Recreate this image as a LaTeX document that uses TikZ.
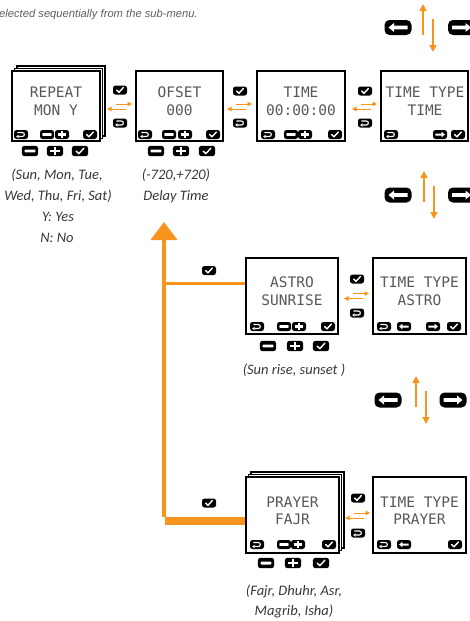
\documentclass[tikz,border=0pt]{standalone}
\usepackage{fontspec}
\usetikzlibrary{arrows.meta}
\newfontfamily\lcdfont{DejaVu Sans Mono}
\newfontfamily\capfont{Carlito}
\newfontfamily\notefont{Liberation Sans}
\definecolor{orng}{RGB}{247,148,29}
\definecolor{lcdgray}{RGB}{88,88,88}
\definecolor{capgray}{RGB}{55,55,55}
\definecolor{notegray}{RGB}{95,95,95}
\tikzset{
  screen/.style={draw=black, line width=2.2pt, fill=white, inner sep=0pt, rectangle},
  stackbox/.style={draw=black, line width=1.1pt, fill=white, inner sep=0pt, rectangle},
  lcd/.style={font=\lcdfont\fontsize{14.5}{14.5}\selectfont, text=lcdgray, inner sep=0pt, anchor=base},
  captext/.style={font=\capfont\itshape\fontsize{14.5}{14.5}\selectfont, text=capgray, inner sep=0pt, anchor=base},
  bigline/.style={orng, line width=4pt},
  pics/bchk/.style={code={
    \fill[black,rounded corners=2.5pt] (-7,-4.5) rectangle (7,4.5);
    \draw[white,line width=1.4pt,line cap=round,line join=round] (-3.3,0) -- (-1,2.3) -- (3.4,-2.5);}},
  pics/bmin/.style={code={
    \fill[black,rounded corners=2.5pt] (-7,-4.5) rectangle (7,4.5);
    \fill[white,rounded corners=0.6pt] (-4.6,-1.3) rectangle (4.6,1.3);}},
  pics/bplus/.style={code={
    \fill[black,rounded corners=2.5pt] (-7,-4.5) rectangle (7,4.5);
    \fill[white] (-4.2,-1.2) rectangle (4.2,1.2);
    \fill[white] (-1.2,-3.4) rectangle (1.2,3.4);}},
  pics/bback/.style={code={
    \fill[black,rounded corners=2.5pt] (-7,-4.5) rectangle (7,4.5);
    \draw[white,line width=1.1pt] (-3.6,-2) -- (1.3,-2) .. controls (4,-2) and (4,2) .. (1.3,2) -- (-2.5,2);
    \fill[white] (-4.8,2) -- (-2.3,0.2) -- (-2.3,3.8) -- cycle;}},
  pics/bleft/.style={code={
    \fill[black,rounded corners=2.5pt] (-7,-4.5) rectangle (7,4.5);
    \fill[white] (-4.8,0) -- (-1.6,-2.9) -- (-1.6,-1) -- (4.6,-1) -- (4.6,1) -- (-1.6,1) -- (-1.6,2.9) -- cycle;}},
  pics/bright/.style={code={
    \fill[black,rounded corners=2.5pt] (-7,-4.5) rectangle (7,4.5);
    \fill[white] (4.8,0) -- (1.6,-2.9) -- (1.6,-1) -- (-4.6,-1) -- (-4.6,1) -- (1.6,1) -- (1.6,2.9) -- cycle;}},
  pics/bigleft/.style={code={
    \fill[black,rounded corners=5pt] (-13.5,-7.5) rectangle (13.5,7.5);
    \fill[white] (-9.5,0) -- (-4,-4.5) -- (-4,-1.8) -- (9.5,-1.8) -- (9.5,1.8) -- (-4,1.8) -- (-4,4.5) -- cycle;}},
  pics/bigright/.style={code={
    \fill[black,rounded corners=5pt] (-13.5,-7.5) rectangle (13.5,7.5);
    \fill[white] (9.5,0) -- (4,-4.5) -- (4,-1.8) -- (-9.5,-1.8) -- (-9.5,1.8) -- (4,1.8) -- (4,4.5) -- cycle;}},
  pics/swap/.style={code={
    \draw[orng,line width=0.9pt,-{Triangle[length=4.5pt,width=4.5pt]}] (-4,0) -- (12,0);
    \draw[orng,line width=0.9pt,-{Triangle[length=4.5pt,width=4.5pt]}] (6,5) -- (-13,5);}},
  pics/updown/.style={code={
    \draw[orng,line width=1.5pt,-{Triangle[length=7pt,width=7pt]}] (0,31) -- (0,0);
    \draw[orng,line width=1.5pt,-{Triangle[length=7pt,width=7pt]}] (10,15) -- (10,48);}},
}
\begin{document}
\begin{tikzpicture}[x=1pt,y=-1pt]
\useasboundingbox (0,0) rectangle (470,621);

% note at top
\node[anchor=base west, inner sep=0pt, font=\notefont\itshape\fontsize{11.2}{11.2}\selectfont, text=notegray] (note) at (-1,17) {elected sequentially from the sub-menu.};

% ---------- top row screens ----------
\node[stackbox, minimum width=88pt, minimum height=70pt] (repb2) at (61,101) {};
\node[stackbox, minimum width=88pt, minimum height=70pt] (repb1) at (58.5,103.5) {};
\node[screen, minimum width=88pt, minimum height=70pt] (rep) at (56,106) {};
\node[screen, minimum width=87pt, minimum height=70pt] (ofs) at (179.5,106) {};
\node[screen, minimum width=88pt, minimum height=70pt] (tim) at (301,106) {};
\node[screen, minimum width=87pt, minimum height=70pt] (ttt) at (424.5,106) {};

\node[lcd] (rep1) at (56,97.5) {REPEAT};
\node[lcd] (rep2) at (56,115) {MON Y};
\node[lcd] (ofs1) at (179.5,97.5) {OFSET};
\node[lcd] (ofs2) at (179.5,115) {000};
\node[lcd] (tim1) at (301,97.5) {TIME};
\node[lcd] (tim2) at (301,115) {00:00:00};
\node[lcd] (ttt1) at (425,97.5) {TIME TYPE};
\node[lcd] (ttt2) at (425,115) {TIME};

% inner screen buttons, top row
\pic at (21,134.5) {bback}; \pic at (47,134.5) {bmin}; \pic at (62,134.5) {bplus}; \pic at (90,134.5) {bchk};
\pic at (145,134.5) {bback}; \pic at (169,134.5) {bmin}; \pic at (185,134.5) {bplus}; \pic at (213,134.5) {bchk};
\pic at (268,134.5) {bback}; \pic at (291,134.5) {bmin}; \pic at (305,134.5) {bplus}; \pic at (335,134.5) {bchk};
\pic at (391,134.5) {bback}; \pic at (440,134.5) {bright}; \pic at (458,134.5) {bchk};

% buttons below top row screens
\pic[scale=1.15] at (30,151) {bmin}; \pic[scale=1.15] at (55,151) {bplus}; \pic[scale=1.15] at (80,151) {bchk};
\pic[scale=1.15] at (156,151) {bmin}; \pic[scale=1.15] at (181,151) {bplus}; \pic[scale=1.15] at (207,151) {bchk};

% between-screen icons, top row
\pic at (120,90) {bchk}; \pic at (120,123) {bback}; \pic at (120,104) {swap};
\pic at (240,91) {bchk}; \pic at (240,123) {bback}; \pic at (240,104) {swap};
\pic at (365,91) {bchk}; \pic at (365,123) {bback}; \pic at (365,104) {swap};

% captions top row
\node[captext] (c1) at (57,179) {(Sun, Mon, Tue,};
\node[captext] (c2) at (58,200) {Wed, Thu, Fri, Sat)};
\node[captext] (c3) at (58,221) {Y: Yes};
\node[captext] (c4) at (57,242) {N: No};
\node[captext] (c5) at (176,179) {(-720,+720)};
\node[captext] (c6) at (176,200) {Delay Time};

% arrow groups on the right
\pic at (398,27.5) {bigleft}; \pic at (461.5,27.5) {bigright}; \pic at (423,4) {updown};
\pic at (398,195) {bigleft}; \pic at (461.5,195) {bigright}; \pic at (424,171) {updown};
\pic at (388,400) {bigleft}; \pic at (453,400) {bigright}; \pic at (416,376) {updown};

% ---------- astro row ----------
\node[screen, minimum width=92pt, minimum height=76pt] (ast) at (292,296) {};
\node[screen, minimum width=93pt, minimum height=76pt] (tta) at (419.5,296) {};
\node[lcd] (ast1) at (292,287) {ASTRO};
\node[lcd] (ast2) at (292,305) {SUNRISE};
\node[lcd] (tta1) at (419.5,287) {TIME TYPE};
\node[lcd] (tta2) at (419.5,305) {ASTRO};
\pic at (257,326.5) {bback}; \pic at (284,326.5) {bmin}; \pic at (299,326.5) {bplus}; \pic at (328,326.5) {bchk};
\pic at (384,326.5) {bback}; \pic at (404,326.5) {bleft}; \pic at (433,326.5) {bright}; \pic at (454,326.5) {bchk};
\pic[scale=1.15] at (268,346) {bmin}; \pic[scale=1.15] at (295,346) {bplus}; \pic[scale=1.15] at (321,346) {bchk};
\pic at (357,279) {bchk}; \pic at (357,313) {bback}; \pic at (357,293.5) {swap};
\node[captext] (c7) at (294,374) {(Sun rise, sunset )};

% ---------- prayer row ----------
\node[stackbox, minimum width=93pt, minimum height=76pt] (prab2) at (297.5,510) {};
\node[stackbox, minimum width=93pt, minimum height=76pt] (prab1) at (295,512.5) {};
\node[screen, minimum width=93pt, minimum height=76pt] (pra) at (292.5,515) {};
\node[screen, minimum width=93pt, minimum height=76pt] (ttp) at (419.5,515) {};
\node[lcd] (pra1) at (292.5,507) {PRAYER};
\node[lcd] (pra2) at (292.5,524) {FAJR};
\node[lcd] (ttp1) at (419.5,507) {TIME TYPE};
\node[lcd] (ttp2) at (419.5,524) {PRAYER};
\pic at (257,544.5) {bback}; \pic at (284,544.5) {bmin}; \pic at (298,544.5) {bplus}; \pic at (329,544.5) {bchk};
\pic at (384,544.5) {bback}; \pic at (404,544.5) {bleft}; \pic at (455,544.5) {bchk};
\pic[scale=1.15] at (266,563) {bmin}; \pic[scale=1.15] at (293,563) {bplus}; \pic[scale=1.15] at (321,563) {bchk};
\pic at (358,498) {bchk}; \pic at (358,533) {bback}; \pic at (358,513) {swap};
\node[captext] (c8) at (294,595) {(Fajr, Dhuhr, Asr,};
\node[captext] (c9) at (294,615) {Magrib, Isha)};

% ---------- big orange return line ----------
\coordinate (corner) at (164,521);
\coordinate (tip) at (164,222);
\coordinate (aj) at (164,283);
\draw[orng, line width=8pt] (corner -| pra.west) -- ([xshift=1pt]corner);
\draw[bigline, -{Triangle[length=18pt,width=26pt]}] ([yshift=4pt]corner) -- (tip);
\draw[orng, line width=3pt] (aj -| ast.west) -- (aj);
\pic at (209,270.5) {bchk};
\pic at (209,503) {bchk};
\end{tikzpicture}
\end{document}
